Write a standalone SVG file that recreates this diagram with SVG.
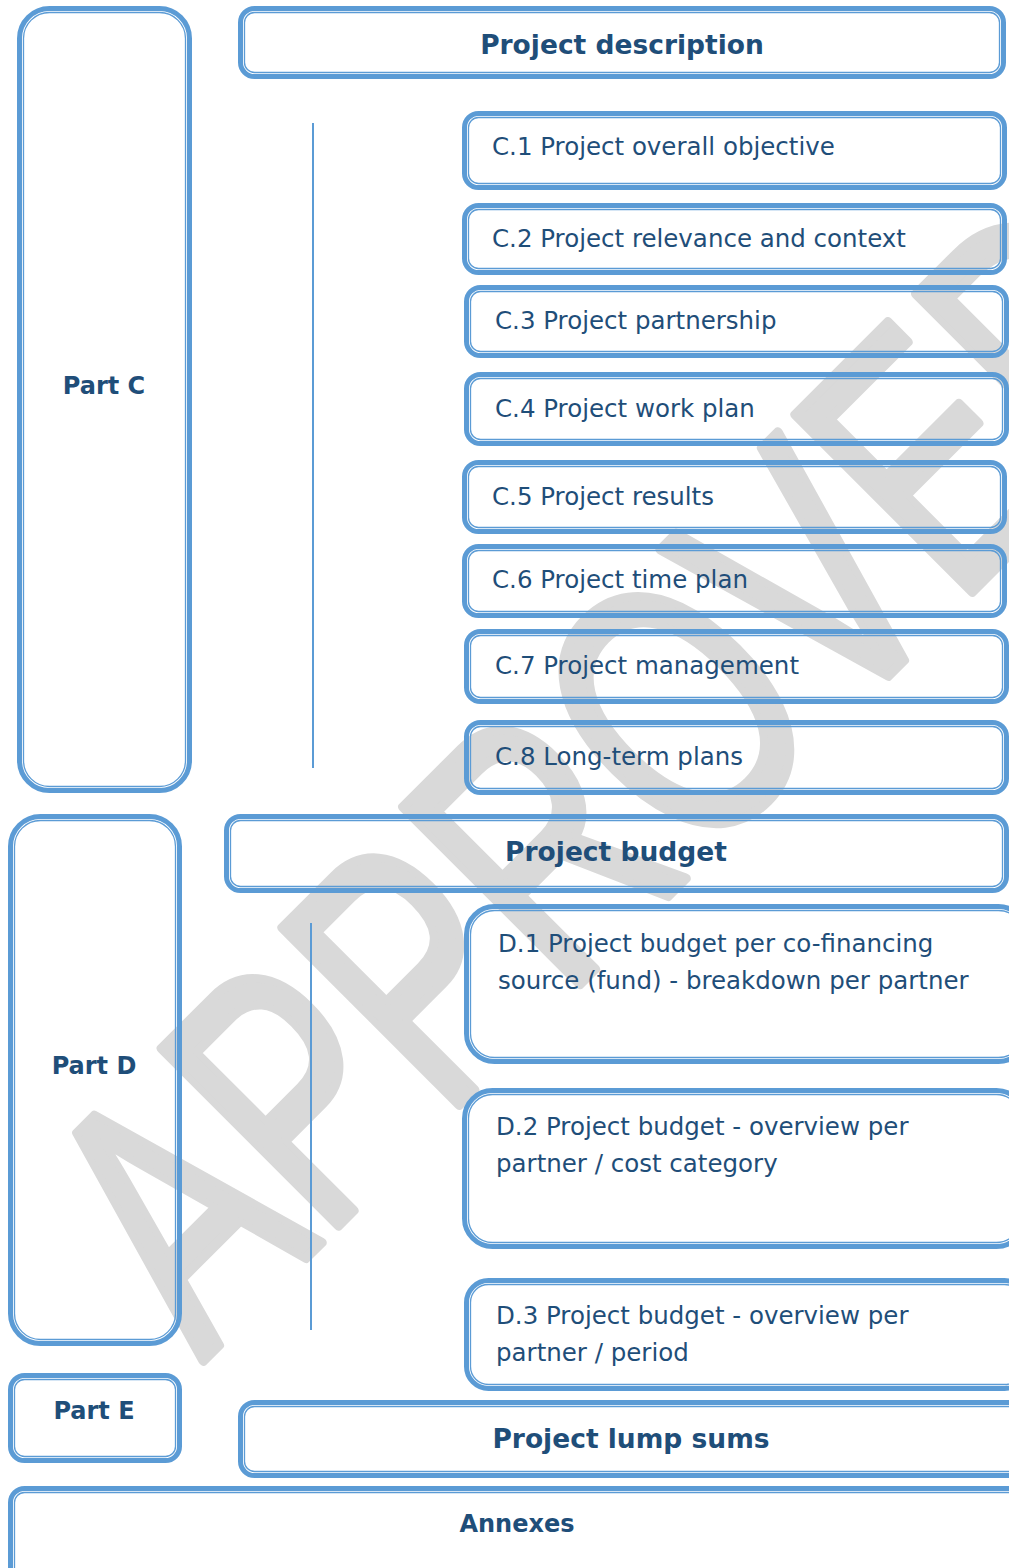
<svg xmlns="http://www.w3.org/2000/svg" width="1009" height="1568" viewBox="0 0 1009 1568">
<style>
.o{fill:none;stroke:#5b9bd5;stroke-width:5}
.i{fill:none;stroke:#5b9bd5;stroke-width:1.3}
.t{font-family:"DejaVu Sans",sans-serif;font-size:24.5px;fill:#1f4e79}
.b{font-family:"DejaVu Sans",sans-serif;font-weight:bold;font-size:26.5px;fill:#1f4e79;text-anchor:middle}
.p{font-family:"DejaVu Sans",sans-serif;font-weight:bold;font-size:24px;fill:#1f4e79;text-anchor:middle}
.wm{font-family:"Liberation Sans",sans-serif;font-size:256px;fill:#d9d9d9;stroke:#d9d9d9;stroke-width:7;stroke-linejoin:round}
.ln{stroke:#5b9bd5;stroke-width:2}
</style>
<rect width="1009" height="1568" fill="#fff"/>
<text class="wm" transform="translate(202,1362) rotate(-45) scale(1,1.42)">APPROVED</text>
<g id="connectors">
<line class="ln" x1="313" y1="123" x2="313" y2="768"/>
<line class="ln" x1="311" y1="923" x2="311" y2="1330"/>
</g>
<g id="partC"><rect class="o" x="19.5" y="8.5" width="170" height="782" rx="30"/><rect class="i" x="23.5" y="12.5" width="162" height="774" rx="26"/><text class="p" x="104" y="394">Part C</text></g>
<g id="desc"><rect class="o" x="240.5" y="8.5" width="763" height="68" rx="14"/><rect class="i" x="244.5" y="12.5" width="755" height="60" rx="10"/><text class="b" x="622" y="54">Project description</text></g>
<g id="c1"><rect class="o" x="464.5" y="113.5" width="540" height="74" rx="14"/><rect class="i" x="468.5" y="117.5" width="532" height="66" rx="10"/><text class="t" x="492" y="155">C.1 Project overall objective</text></g>
<g id="c2"><rect class="o" x="464.5" y="205.5" width="540" height="67" rx="14"/><rect class="i" x="468.5" y="209.5" width="532" height="59" rx="10"/><text class="t" x="492" y="247">C.2 Project relevance and context</text></g>
<g id="c3"><rect class="o" x="466.5" y="287.5" width="540" height="68" rx="14"/><rect class="i" x="470.5" y="291.5" width="532" height="60" rx="10"/><text class="t" x="495" y="329">C.3 Project partnership</text></g>
<g id="c4"><rect class="o" x="466.5" y="374.5" width="540" height="69" rx="14"/><rect class="i" x="470.5" y="378.5" width="532" height="61" rx="10"/><text class="t" x="495" y="417">C.4 Project work plan</text></g>
<g id="c5"><rect class="o" x="464.5" y="462.5" width="540" height="69" rx="14"/><rect class="i" x="468.5" y="466.5" width="532" height="61" rx="10"/><text class="t" x="492" y="505">C.5 Project results</text></g>
<g id="c6"><rect class="o" x="464.5" y="546.5" width="540" height="69" rx="14"/><rect class="i" x="468.5" y="550.5" width="532" height="61" rx="10"/><text class="t" x="492" y="588">C.6 Project time plan</text></g>
<g id="c7"><rect class="o" x="466.5" y="631.5" width="540" height="70" rx="14"/><rect class="i" x="470.5" y="635.5" width="532" height="62" rx="10"/><text class="t" x="495" y="674">C.7 Project management</text></g>
<g id="c8"><rect class="o" x="466.5" y="722.5" width="540" height="70" rx="14"/><rect class="i" x="470.5" y="726.5" width="532" height="62" rx="10"/><text class="t" x="495" y="765">C.8 Long-term plans</text></g>
<g id="partD"><rect class="o" x="10.5" y="816.5" width="169" height="527" rx="30"/><rect class="i" x="14.5" y="820.5" width="161" height="519" rx="26"/><text class="p" x="94" y="1074">Part D</text></g>
<g id="budget"><rect class="o" x="226.5" y="816.5" width="780" height="74" rx="14"/><rect class="i" x="230.5" y="820.5" width="772" height="66" rx="10"/><text class="b" x="616" y="861">Project budget</text></g>
<g id="d1"><rect class="o" x="466.5" y="906.5" width="560" height="155" rx="28"/><rect class="i" x="470.5" y="910.5" width="552" height="147" rx="24"/><text class="t" x="498" y="952">D.1 Project budget per co-financing</text><text class="t" x="498" y="989">source (fund) - breakdown per partner</text></g>
<g id="d2"><rect class="o" x="464.5" y="1090.5" width="560" height="156" rx="28"/><rect class="i" x="468.5" y="1094.5" width="552" height="148" rx="24"/><text class="t" x="496" y="1135">D.2 Project budget - overview per</text><text class="t" x="496" y="1172">partner / cost category</text></g>
<g id="d3"><rect class="o" x="466.5" y="1280.5" width="560" height="108" rx="22"/><rect class="i" x="470.5" y="1284.5" width="552" height="100" rx="18"/><text class="t" x="496" y="1324">D.3 Project budget - overview per</text><text class="t" x="496" y="1361">partner / period</text></g>
<g id="partE"><rect class="o" x="10.5" y="1375.5" width="169" height="85" rx="14"/><rect class="i" x="14.5" y="1379.5" width="161" height="77" rx="10"/><text class="p" x="94" y="1419">Part E</text></g>
<g id="lump"><rect class="o" x="240.5" y="1402.5" width="785" height="73" rx="14"/><rect class="i" x="244.5" y="1406.5" width="777" height="65" rx="10"/><text class="b" x="631" y="1448">Project lump sums</text></g>
<g id="annex"><rect class="o" x="10.5" y="1488.5" width="1015" height="100" rx="14"/><rect class="i" x="14.5" y="1492.5" width="1007" height="92" rx="10"/><text class="p" x="517" y="1532">Annexes</text></g>
</svg>
